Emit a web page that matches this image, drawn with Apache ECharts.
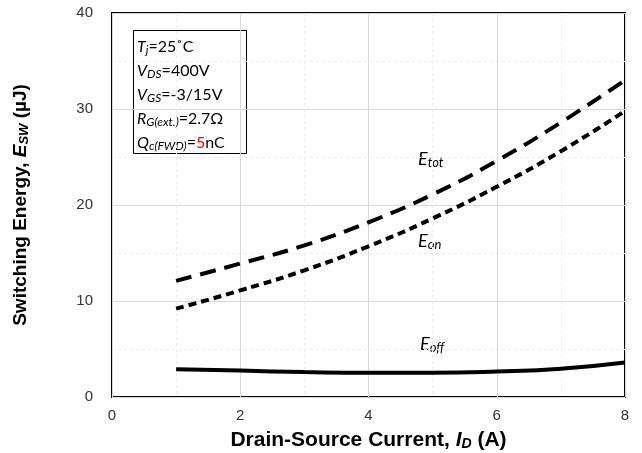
<!DOCTYPE html>
<html><head><meta charset="utf-8">
<script src="https://cdn.jsdelivr.net/npm/echarts@6/dist/echarts.min.js"></script>
<style>html,body{margin:0;padding:0;background:#fff}#c{width:642px;height:453px}</style>
</head><body><div id="c"></div>
<script>
const currents = [1, 2, 3, 4, 5, 6, 7, 8];
const eTot = [12.1, 13.9, 15.8, 18.2, 21.1, 24.6, 28.6, 33.0];
const eOn  = [9.2, 11.1, 13.2, 15.7, 18.6, 21.9, 25.6, 29.8];
const eOff = [2.9, 2.75, 2.6, 2.52, 2.52, 2.65, 2.95, 3.6];
const xTicks = [0, 2, 4, 6, 8];
const yTicks = [0, 10, 20, 30, 40];

const pairs = (ys) => currents.map((x, i) => [x, ys[i]]);
const chart = echarts.init(document.getElementById('c'));
const F = 'Liberation Sans, Arial, sans-serif';
const C = 'Lato, Carlito, sans-serif';

function titleRich(size, subSize) {
  return {
    b: {fontFamily: F, fontWeight: 'bold', fontSize: size, color: '#000', lineHeight: size + 4},
    i: {fontFamily: F, fontWeight: 'bold', fontStyle: 'italic', fontSize: size, color: '#000', lineHeight: size + 4},
    s: {fontFamily: F, fontWeight: 'bold', fontStyle: 'italic', fontSize: subSize, color: '#000', lineHeight: subSize, padding: [7, 0, 0, 0]}
  };
}
function boxRich(size, subSize, lh) {
  return {
    n: {fontFamily: C, fontSize: size, fill: '#000', lineHeight: lh},
    i: {fontFamily: C, fontStyle: 'italic', fontSize: size, fill: '#000', lineHeight: lh},
    r: {fontFamily: C, fontSize: size, fill: '#ff0000', lineHeight: lh},
    s: {fontFamily: C, fontStyle: 'italic', fontSize: subSize, fill: '#000', lineHeight: subSize, padding: [6, 0, 0, 0]}
  };
}

chart.setOption({
  animation: false,
  grid: {left: 112, right: 17, top: 13, bottom: 56, show: true, borderColor: '#000', borderWidth: 2,
         containLabel: false, outerBoundsMode: 'none'},
  xAxis: {
    type: 'value', min: 0, max: 8, interval: 2,
    axisLine: {show: false}, axisTick: {show: false},
    axisLabel: {fontFamily: F, fontSize: 15, color: '#333', margin: 11,
      formatter: (v) => xTicks.includes(v) ? String(v) : ''},
    splitLine: {lineStyle: {color: '#d9d9d9', width: 1}},
    minorTick: {show: false, splitNumber: 2},
    minorSplitLine: {show: true, lineStyle: {color: '#ececec', type: [3, 3]}},
    name: '{b|Drain-Source Current, }{i|I}{s|D}{b| (A)}',
    nameLocation: 'middle', nameGap: 31,
    nameTextStyle: {rich: titleRich(21, 14)}
  },
  yAxis: {
    type: 'value', min: 0, max: 40, interval: 10,
    axisLine: {show: false}, axisTick: {show: false},
    axisLabel: {fontFamily: F, fontSize: 15, color: '#333', margin: 19,
      formatter: (v) => yTicks.includes(v) ? String(v) : ''},
    splitLine: {lineStyle: {color: '#d9d9d9', width: 1}},
    minorTick: {show: false, splitNumber: 2},
    minorSplitLine: {show: true, lineStyle: {color: '#ececec', type: [3, 3]}},
    name: '{b|Switching Energy, }{i|E}{s|SW}{b| (µJ)}',
    nameLocation: 'middle', nameGap: 80, nameRotate: 90,
    nameTextStyle: {rich: titleRich(19, 13)}
  },
  series: [
    {name: 'Etot', type: 'line', smooth: true, symbol: 'none', data: pairs(eTot),
     lineStyle: {color: '#000', width: 4, type: [16, 9]}},
    {name: 'Eon', type: 'line', smooth: true, symbol: 'none', data: pairs(eOn),
     lineStyle: {color: '#000', width: 4, type: [8, 5]}},
    {name: 'Eoff', type: 'line', smooth: true, symbol: 'none', data: pairs(eOff),
     lineStyle: {color: '#000', width: 4}}
  ],
  graphic: [
    {type: 'rect', shape: {x: 133.5, y: 30.5, width: 113, height: 123}, style: {fill: '#fff', stroke: '#000', lineWidth: 1}},
    {type: 'text', left: 137, top: 38, style: {
      text: '{i|T}{s|j}{n|=25˚C}\n{i|V}{s|DS}{n|=400V}\n{i|V}{s|GS}{n|=-3/15V}\n{i|R}{s|G(ext.)}{n|=2.7Ω}\n{i|Q}{s|c(FWD)}{n|=}{r|5}{n|nC}',
      rich: boxRich(16, 12, 24)}},
    {type: 'text', left: 418, top: 150, style: {text: '{i|E}{s|tot}', rich: boxRich(18, 13, 24)}},
    {type: 'text', left: 418, top: 232, style: {text: '{i|E}{s|on}', rich: boxRich(18, 13, 24)}},
    {type: 'text', left: 420, top: 335, style: {text: '{i|E}{s|off}', rich: boxRich(18, 13, 24)}}
  ]
});
</script></body></html>
